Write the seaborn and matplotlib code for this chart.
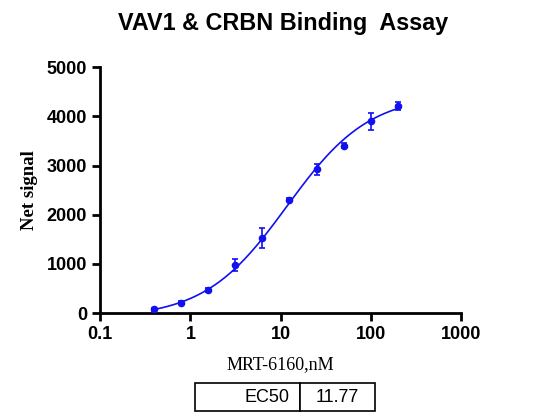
import numpy as np
import pandas as pd
import matplotlib
matplotlib.use("Agg")
import matplotlib.pyplot as plt
import seaborn as sns

# data
conc_nM = [0.39, 0.78, 1.56, 3.125, 6.25, 12.5, 25, 50, 100, 200]
net_signal = [80, 210, 470, 980, 1530, 2310, 2920, 3400, 3900, 4210]
signal_sd = [30, 30, 40, 120, 200, 30, 110, 50, 170, 80]

# 4PL fit parameters (EC50 as reported)
fit_bottom = -100
fit_top = 4450
fit_ec50 = 11.77
fit_hill = 0.95

x_ticks = [0.1, 1, 10, 100, 1000]
x_tick_labels = ["0.1", "1", "10", "100", "1000"]
y_ticks = [0, 1000, 2000, 3000, 4000, 5000]

blue = "#1010f0"

sns.set_style("ticks")
plt.rcParams["font.family"] = ["Liberation Sans", "DejaVu Sans"]
plt.rcParams.update({"text.color": "black", "axes.labelcolor": "black",
                     "xtick.color": "black", "ytick.color": "black",
                     "axes.edgecolor": "black"})

df = pd.DataFrame({"conc": conc_nM, "signal": net_signal, "sd": signal_sd})

# fitted curve from the 4PL parameters
xs = np.logspace(np.log10(conc_nM[0]), np.log10(conc_nM[-1]), 300)
fit_df = pd.DataFrame({
    "conc": xs,
    "signal": fit_bottom + (fit_top - fit_bottom) / (1 + (fit_ec50 / xs) ** fit_hill),
})

fig = plt.figure(figsize=(5.33, 4.17), dpi=100)
ax = fig.add_axes([0.188, 0.249, 0.677, 0.59])

sns.lineplot(data=fit_df, x="conc", y="signal", color=blue, linewidth=1.2, ax=ax)
ax.errorbar(df["conc"], df["signal"], yerr=df["sd"], fmt="none", ecolor=blue,
            elinewidth=1.2, capsize=2.5, capthick=1.2)
sns.scatterplot(data=df, x="conc", y="signal", color=blue, s=30, edgecolor=blue,
                linewidth=0, ax=ax, zorder=3)

ax.set_xscale("log")
ax.set_xlim(0.1, 1000)
ax.set_ylim(0, 5000)
ax.set_xticks(x_ticks)
ax.set_xticklabels(x_tick_labels)
ax.xaxis.set_minor_locator(matplotlib.ticker.NullLocator())
ax.set_yticks(y_ticks)

# axis styling
for s in ["left", "bottom"]:
    ax.spines[s].set_linewidth(2)
sns.despine(ax=ax)
ax.tick_params(width=2, length=6, labelsize=13, color="black")
for lab in ax.get_xticklabels() + ax.get_yticklabels():
    lab.set_fontweight("bold")

ax.set_xlabel("MRT-6160,nM", family="Liberation Serif", fontsize=13, labelpad=9)
ax.set_ylabel("Net signal", family="Liberation Serif", fontsize=13.5, fontweight="bold", labelpad=6)

fig.text(0.531, 0.943, "VAV1 & CRBN Binding  Assay", ha="center", va="center",
         fontsize=16.8, fontweight="bold")

# EC50 table
tab = ax.table(cellText=[["EC50", "11.77"]], colWidths=[0.583, 0.417],
               cellLoc="center", bbox=[0.263, -0.398, 0.499, 0.114])
tab.auto_set_font_size(False)
for (r, c), cell in tab.get_celld().items():
    cell.set_linewidth(1.2)
    cell.get_text().set_fontsize(13)
    if c == 0:
        cell.get_text().set_ha("right")
        cell._loc = "right"

fig.savefig("out.png", dpi=100)
